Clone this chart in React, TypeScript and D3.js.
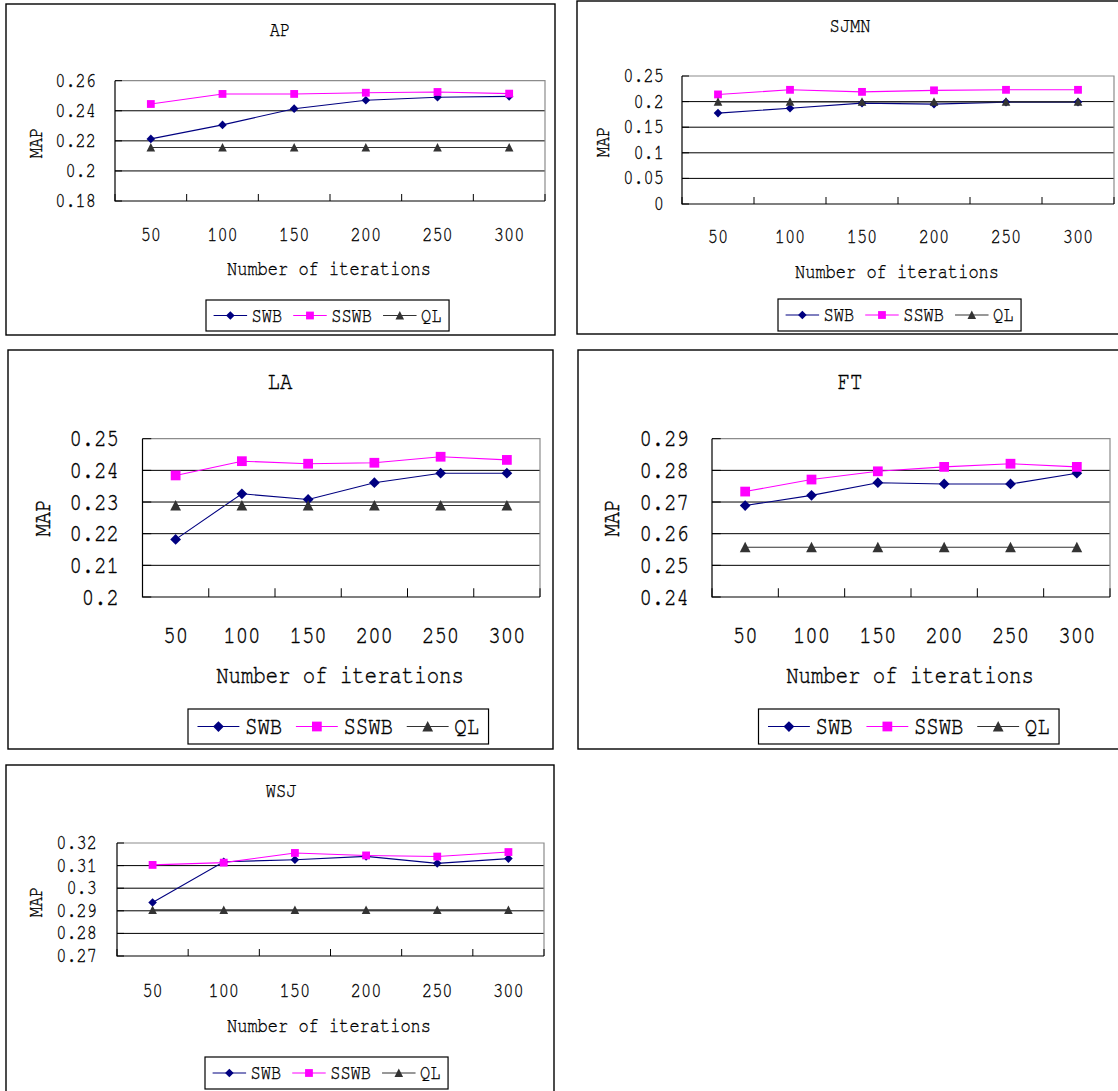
import React from "react";
import * as d3 from "d3";

// ---------- data ----------
const iterations = ["50", "100", "150", "200", "250", "300"];
const seriesNames = ["SWB", "SSWB", "QL"];

const apTicks = [0.18, 0.2, 0.22, 0.24, 0.26];
const apSWB = [0.2213, 0.2306, 0.2414, 0.247, 0.249, 0.2496];
const apSSWB = [0.2445, 0.2512, 0.2512, 0.252, 0.2525, 0.2514];
const apQL = [0.2156, 0.2156, 0.2156, 0.2156, 0.2156, 0.2156];

const sjmnTicks = [0, 0.05, 0.1, 0.15, 0.2, 0.25];
const sjmnSWB = [0.1775, 0.187, 0.197, 0.195, 0.199, 0.199];
const sjmnSSWB = [0.214, 0.223, 0.219, 0.222, 0.223, 0.223];
const sjmnQL = [0.1995, 0.1995, 0.1995, 0.1995, 0.1995, 0.1995];

const laTicks = [0.2, 0.21, 0.22, 0.23, 0.24, 0.25];
const laSWB = [0.2182, 0.2326, 0.2308, 0.2361, 0.2391, 0.2391];
const laSSWB = [0.2384, 0.2429, 0.2421, 0.2424, 0.2443, 0.2433];
const laQL = [0.2289, 0.2289, 0.2289, 0.2289, 0.2289, 0.2289];

const ftTicks = [0.24, 0.25, 0.26, 0.27, 0.28, 0.29];
const ftSWB = [0.2689, 0.2721, 0.2761, 0.2757, 0.2757, 0.2791];
const ftSSWB = [0.2733, 0.2771, 0.2797, 0.2811, 0.2821, 0.2811];
const ftQL = [0.2557, 0.2557, 0.2557, 0.2557, 0.2557, 0.2557];

const wsjTicks = [0.27, 0.28, 0.29, 0.3, 0.31, 0.32];
const wsjSWB = [0.2937, 0.3117, 0.3126, 0.3141, 0.311, 0.3131];
const wsjSSWB = [0.3103, 0.3113, 0.3156, 0.3145, 0.314, 0.316];
const wsjQL = [0.2904, 0.2904, 0.2904, 0.2904, 0.2904, 0.2904];

// ---------- layout / style ----------
const COLORS = ["#000080", "#FF00FF", "#333333"];
const FONT = "FreeMono, 'Nimbus Mono PS', 'Courier New', monospace";

const SMALL = { fs: 21, sx: 0.81, m: 1, sw: 0.35 };
const LARGE = { fs: 25.5, sx: 0.81, m: 1.25, sw: 0.42 };

const panels = [
  {
    title: "AP", ticks: apTicks, data: [apSWB, apSSWB, apQL], st: SMALL,
    box: [6, 4, 555, 335], plot: [115, 80.7, 545, 201], titlePos: [280, 30],
    yLabR: 96, xLabY: 235, xTitle: [329, 269], map: [36, 143], legend: [206, 300, 331],
  },
  {
    title: "SJMN", ticks: sjmnTicks, data: [sjmnSWB, sjmnSSWB, sjmnQL], st: SMALL,
    box: [577, 1, 1130, 334], plot: [682, 76, 1114, 204], titlePos: [850, 26],
    yLabR: 664, xLabY: 237, xTitle: [897, 272], map: [603, 142], legend: [778, 299, 331],
  },
  {
    title: "LA", ticks: laTicks, data: [laSWB, laSSWB, laQL], st: LARGE,
    box: [8, 350, 553, 749], plot: [142.5, 438.7, 540, 597], titlePos: [280, 381],
    yLabR: 119, xLabY: 635, xTitle: [340, 675], map: [42, 518], legend: [188, 709, 744],
  },
  {
    title: "FT", ticks: ftTicks, data: [ftSWB, ftSSWB, ftQL], st: LARGE,
    box: [578, 350, 1130, 749], plot: [712, 438.7, 1110, 597], titlePos: [850, 381],
    yLabR: 689, xLabY: 635, xTitle: [910, 675], map: [611, 518], legend: [758.5, 709, 744],
  },
  {
    title: "WSJ", ticks: wsjTicks, data: [wsjSWB, wsjSSWB, wsjQL], st: SMALL,
    box: [6, 765, 554, 1100], plot: [117, 843, 544, 956], titlePos: [281, 791],
    yLabR: 97, xLabY: 991, xTitle: [329, 1026], map: [36, 902], legend: [205, 1057, 1089],
  },
];

const fmt = (v: number) => String(+v.toFixed(2));

function T({ x, y, st, anchor = "middle", rotate = 0, children }: any) {
  return (
    <text
      transform={`translate(${x},${y}) rotate(${rotate}) scale(${st.sx},1)`}
      fontFamily={FONT}
      fontSize={st.fs}
      textAnchor={anchor}
      dominantBaseline="central"
      fill="#000"
      stroke="#000"
      strokeWidth={st.sw}
    >
      {children}
    </text>
  );
}

function Marker({ kind, x, y, m }: any) {
  if (kind === 0) {
    const r = 4.3 * m;
    return <path d={`M${x},${y - r}L${x + r},${y}L${x},${y + r}L${x - r},${y}Z`} fill={COLORS[0]} />;
  }
  if (kind === 1) {
    const s = 7.8 * m;
    return <rect x={x - s / 2} y={y - s / 2} width={s} height={s} fill={COLORS[1]} />;
  }
  const w = 8.6 * m;
  const h = 8 * m;
  return <path d={`M${x},${y - h / 2 - 0.5}L${x + w / 2},${y + h / 2}L${x - w / 2},${y + h / 2}Z`} fill={COLORS[2]} />;
}

function Panel({ p }: any) {
  const [bx0, by0, bx1, by1] = p.box;
  const [px0, py0, px1, py1] = p.plot;
  const st = p.st;
  const m = st.m;
  const x = d3.scaleBand<string>().domain(iterations).range([px0, px1]).padding(0);
  const y = d3.scaleLinear().domain([p.ticks[0], p.ticks[p.ticks.length - 1]]).range([py1, py0]);
  const cx = (c: string) => (x(c) as number) + x.bandwidth() / 2;
  const line = d3
    .line<number>()
    .x((_, i) => cx(iterations[i]))
    .y((d) => y(d));
  const tickLen = 7 * m;
  const charW = 0.6 * st.fs * st.sx;

  // legend layout
  const pad = 7.6 * m;
  const lineLen = 33.5 * m;
  const tGap = 4.5 * m;
  const eGap = 11 * m;
  const [lx0, ly0, ly1] = p.legend;
  const lcy = (ly0 + ly1) / 2;
  let cur = lx0 + pad;
  const entries = seriesNames.map((n, i) => {
    const e = { n, i, x: cur };
    cur += lineLen + tGap + n.length * charW + eGap;
    return e;
  });
  const lx1 = cur - eGap + pad;

  return (
    <g>
      <rect x={bx0} y={by0} width={bx1 - bx0} height={by1 - by0} fill="#fff" stroke="#000" strokeWidth={1.4} />
      {p.ticks.slice(1, -1).map((t: number) => (
        <line key={t} x1={px0} x2={px1} y1={y(t)} y2={y(t)} stroke="#000" strokeWidth={1} />
      ))}
      <path d={`M${px0},${py0}H${px1}V${py1}`} fill="none" stroke="#8c8c8c" strokeWidth={1.2} />
      <path d={`M${px0},${py0}V${py1}H${px1}`} fill="none" stroke="#000" strokeWidth={1.2} />
      {p.ticks.map((t: number) => (
        <line key={"yt" + t} x1={px0} x2={px0 + tickLen} y1={y(t)} y2={y(t)} stroke="#000" strokeWidth={1} />
      ))}
      {iterations.map((c) => (
        <line key={"xt" + c} x1={x(c) as number} x2={x(c) as number} y1={py1} y2={py1 - tickLen} stroke="#000" strokeWidth={1} />
      ))}
      <line x1={px1} x2={px1} y1={py1} y2={py1 - tickLen} stroke="#000" strokeWidth={1} />
      {p.data.map((vals: number[], si: number) => (
        <path key={"s" + si} d={line(vals) as string} fill="none" stroke={COLORS[si]} strokeWidth={1.1} />
      ))}
      {p.data.map((vals: number[], si: number) =>
        vals.map((v, i) => <Marker key={si + "-" + i} kind={si} x={cx(iterations[i])} y={y(v)} m={m} />)
      )}
      <T x={p.titlePos[0]} y={p.titlePos[1]} st={st}>{p.title}</T>
      {p.ticks.map((t: number) => (
        <T key={"yl" + t} x={p.yLabR} y={y(t)} st={st} anchor="end">{fmt(t)}</T>
      ))}
      {iterations.map((c) => (
        <T key={"xl" + c} x={cx(c)} y={p.xLabY} st={st}>{c}</T>
      ))}
      <T x={p.xTitle[0]} y={p.xTitle[1]} st={st}>Number of iterations</T>
      <T x={p.map[0]} y={p.map[1]} st={st} rotate={-90}>MAP</T>
      <rect x={lx0} y={ly0} width={lx1 - lx0} height={ly1 - ly0} fill="#fff" stroke="#000" strokeWidth={1.2} />
      {entries.map((e) => (
        <g key={e.n}>
          <line x1={e.x} x2={e.x + lineLen} y1={lcy} y2={lcy} stroke={COLORS[e.i]} strokeWidth={1.1} />
          <Marker kind={e.i} x={e.x + lineLen / 2} y={lcy} m={m} />
          <T x={e.x + lineLen + tGap} y={lcy} st={st} anchor="start">{e.n}</T>
        </g>
      ))}
    </g>
  );
}

export default function App() {
  return (
    <svg
      width={1118}
      height={1091}
      viewBox="0 0 1118 1091"
      style={{ position: "absolute", left: 0, top: 0, background: "#fff" }}
    >
      <rect x={0} y={0} width={1118} height={1091} fill="#fff" />
      {panels.map((p) => (
        <Panel key={p.title} p={p} />
      ))}
    </svg>
  );
}
